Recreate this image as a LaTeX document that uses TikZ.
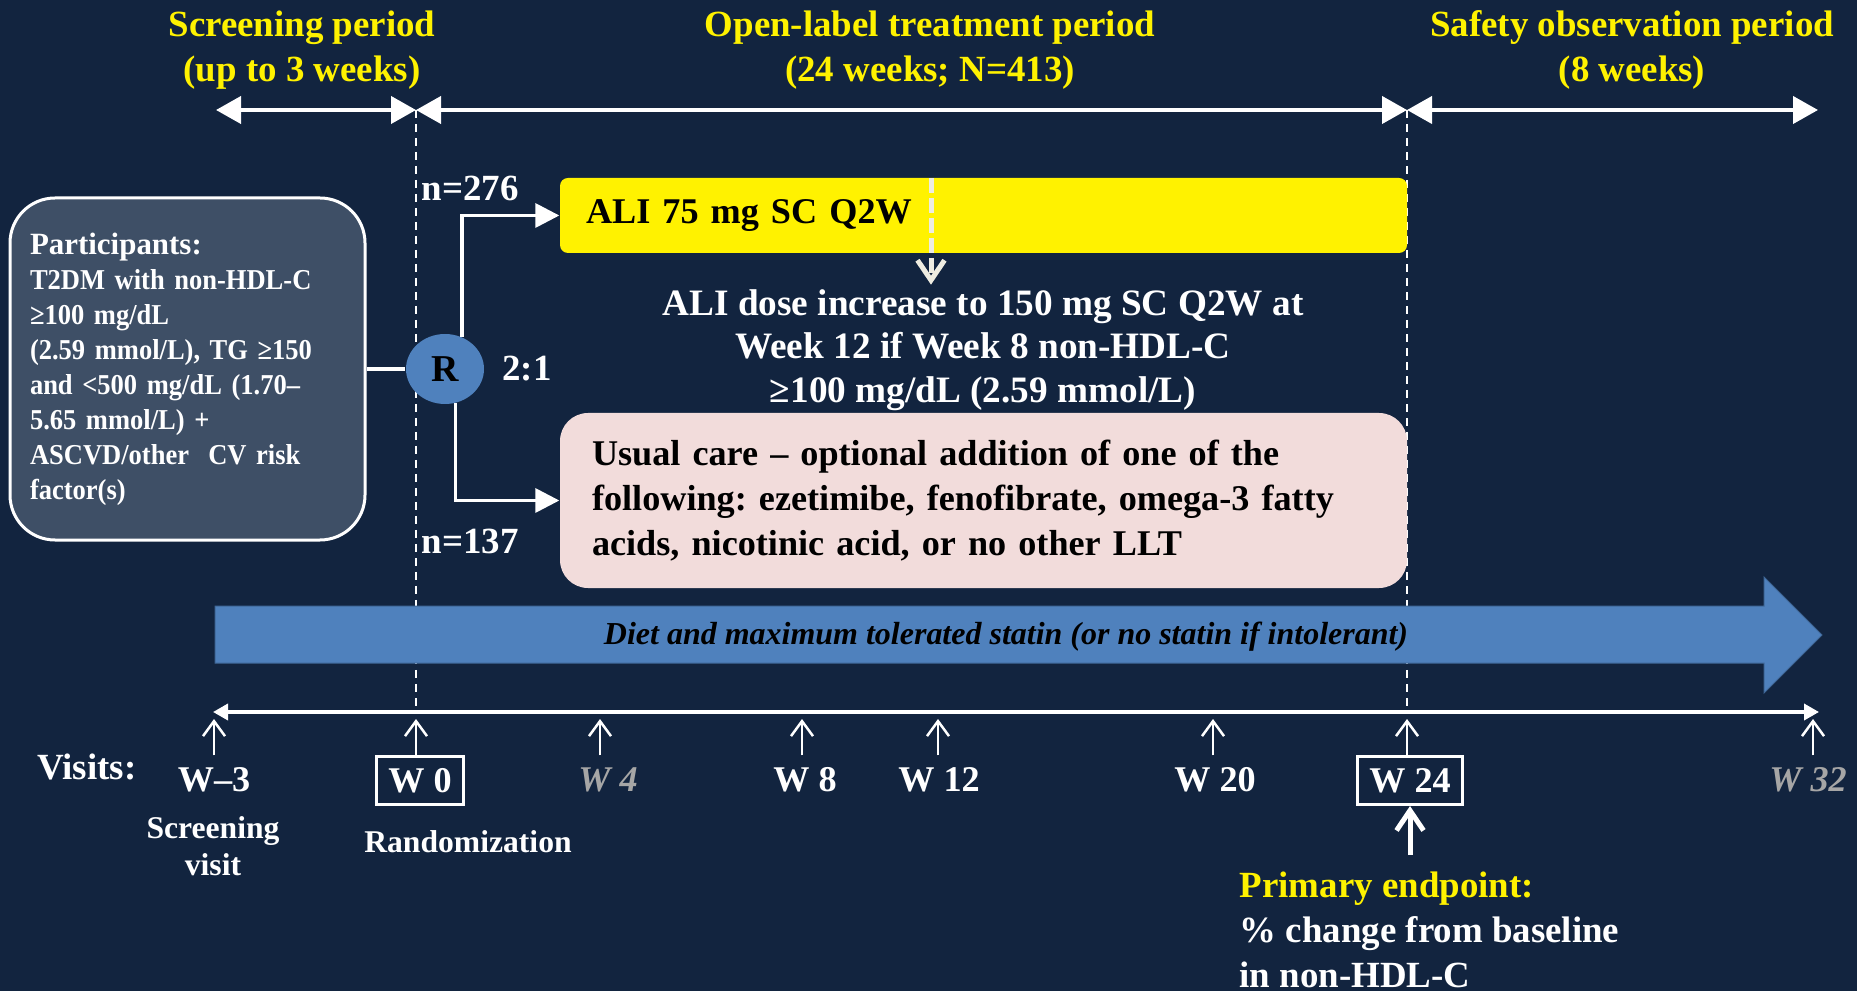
\documentclass[tikz,border=0pt]{standalone}
\usepackage{fontspec}
\setmainfont{Liberation Serif}
\newfontfamily\partfont[FakeStretch=0.92]{Liberation Serif}
\usepackage{tikz}
\usetikzlibrary{shapes.geometric, arrows.meta, positioning, calc}

\definecolor{navybg}{HTML}{12243F}
\definecolor{slatebox}{HTML}{3E4F66}
\definecolor{rblue}{HTML}{4F81BD}
\definecolor{carepink}{HTML}{F2DCDB}
\definecolor{creamline}{HTML}{EEECE1}
\definecolor{greyweek}{HTML}{A6A6A6}

\begin{document}
\frenchspacing
\begin{tikzpicture}[
    hdr/.style={text=yellow, align=center, font=\bfseries\fontsize{10.5}{12.8}\selectfont},
    period/.style={white, line width=0.04cm,
                   {Triangle[length=0.25cm,width=0.27cm]}-{Triangle[length=0.25cm,width=0.27cm]}},
    divider/.style={white, line width=0.02cm, dash pattern=on 0.08cm off 0.06cm},
    partbox/.style={draw=white, line width=0.03cm, fill=slatebox, rounded corners=0.45cm,
                    text width=3.15cm, inner xsep=0.2cm, minimum height=3.42cm, align=left,
                    text=white, font=\partfont\bfseries\fontsize{8.2}{9.95}\selectfont},
    rand/.style={ellipse, fill=rblue, minimum width=0.78cm, minimum height=0.70cm,
                 inner sep=0pt, font=\bfseries\fontsize{10.8}{13}\selectfont},
    lbl/.style={text=white, inner sep=0pt, font=\bfseries\fontsize{10.5}{12.6}\selectfont},
    branch/.style={white, line width=0.035cm, -{Triangle[length=0.24cm,width=0.24cm]}},
    alibox/.style={fill=yellow, rounded corners=0.08cm, text width=7.95cm, inner xsep=0.26cm,
                   minimum height=0.75cm, align=left, font=\bfseries\fontsize{10.3}{13}\selectfont},
    carebox/.style={fill=carepink, rounded corners=0.28cm, text width=7.83cm, inner xsep=0.32cm,
                    minimum height=1.75cm, align=left, font=\bfseries\fontsize{10.3}{12.7}\selectfont},
    escal/.style={creamline, line width=0.05cm, dash pattern=on 0.15cm off 0.05cm,
                  -{Straight Barb[length=0.2cm,width=0.27cm]}},
    timeline/.style={white, line width=0.035cm,
                     {Triangle[length=0.15cm,width=0.16cm]}-{Triangle[length=0.15cm,width=0.16cm]}},
    visarr/.style={white, line width=0.025cm, shorten >=0.07cm,
                   -{Straight Barb[length=0.15cm,width=0.22cm]}},
    visit/.style={text=white, inner sep=0pt, minimum height=0.48cm,
                  font=\bfseries\fontsize{10.3}{12}\selectfont},
    visbox/.style={visit, draw=white, line width=0.03cm, inner xsep=0.12cm},
    later/.style={visit, text=greyweek, font=\bfseries\itshape\fontsize{10.3}{12}\selectfont},
    note/.style={text=white, align=center, font=\bfseries\fontsize{9}{10.5}\selectfont},
    primarr/.style={white, line width=0.05cm, -{Straight Barb[length=0.2cm,width=0.27cm]}}
]
\fill[navybg] (0,0) rectangle (18.57,-9.91);
\useasboundingbox (0,0) rectangle (18.57,-9.91);

\coordinate (p0) at (2.16,-1.10);
\coordinate (p1) at (4.16,-1.10);
\coordinate (p2) at (14.07,-1.10);
\coordinate (p3) at (18.18,-1.10);
\coordinate (m0) at (4.16,-7.12);
\coordinate (m24) at (14.07,-7.12);
\coordinate (tl0) at (2.13,-7.12);
\coordinate (tl1) at (18.19,-7.12);

\draw[divider] (p1) -- (m0);
\draw[divider] (p2) -- (m24);

\node[hdr] (scr) at (3.02,-0.50) {Screening period\\(up to 3 weeks)};
\node[hdr] (olt) at (9.30,-0.50) {Open-label treatment period\\(24 weeks; N=413)};
\node[hdr] (saf) at (16.32,-0.50) {Safety observation period\\(8 weeks)};
\draw[period] (p0) -- (p1);
\draw[period] (p1) -- (p2);
\draw[period] (p2) -- (p3);

\node[partbox] (part) at (1.875,-3.69) {{\rmfamily\fontsize{8.8}{9.95}\selectfont Participants:}\\T2DM with non-HDL-C\\≥100 mg/dL\\(2.59 mmol/L), TG ≥150\\and <500 mg/dL (1.70–\\5.65 mmol/L) +\\ASCVD/other~ CV risk\\factor(s)};
\node[rand] (R) at (4.45,-3.69) {R};
\node[lbl] (ratio) at (5.27,-3.69) {2:1};
\node[lbl, anchor=west] (n1) at (4.21,-1.88) {n=276};
\node[lbl, anchor=west] (n2) at (4.21,-5.41) {n=137};

\node[alibox] (ali) at (9.835,-2.155) {ALI 75 mg SC Q2W};
\node[carebox] (care) at (9.835,-5.005) {Usual care -- optional addition of one of the\\following: ezetimibe, fenofibrate, omega-3 fatty\\acids, nicotinic acid, or no other LLT};
\node[lbl, align=center, inner sep=0.04cm, font=\bfseries\fontsize{10.6}{12.4}\selectfont] (dose) at (9.83,-3.50) {ALI dose increase to 150 mg SC Q2W at\\Week 12 if Week 8 non-HDL-C\\≥100 mg/dL (2.59 mmol/L)};

\coordinate (esc) at (9.31,-1.78);
\draw[escal] (esc) -- (esc |- dose.north);

\draw[white, line width=0.035cm] (part.east) -- (R.west);
\draw[branch] (R.62) |- (ali.west);
\draw[branch] (R.-73) |- (care.west);

\filldraw[fill=rblue, draw=rblue!80!black, line width=0.01cm] (2.15,-6.06) -- (17.64,-6.06) -- (17.64,-5.77) -- (18.22,-6.35) -- (17.64,-6.93) -- (17.64,-6.63) -- (2.15,-6.63) -- cycle;
\node[font=\bfseries\itshape\fontsize{9.1}{11}\selectfont] (diet) at (10.06,-6.37) {Diet and maximum tolerated statin (or no statin if intolerant)};

\draw[timeline] (tl0) -- (tl1);

\node[lbl] (visits) at (0.87,-7.67) {Visits:};
\node[visit] (wm3) at (2.14,-7.80) {W--3};
\node[visbox] (w0) at (4.20,-7.805) {W 0};
\node[later] (w4) at (6.08,-7.80) {W 4};
\node[visit] (w8) at (8.05,-7.80) {W 8};
\node[visit] (w12) at (9.39,-7.80) {W 12};
\node[visit] (w20) at (12.15,-7.80) {W 20};
\node[visbox] (w24) at (14.10,-7.805) {W 24};
\node[later] (w32) at (18.08,-7.80) {W 32};

\foreach \n/\x in {m3/2.14, 0/4.16, 4/6.00, 8/8.02, 12/9.38, 20/12.13, 24/14.07, 32/18.13}
  \coordinate (t\n) at (\x,-7.12);
\foreach \n in {m3, 0, 4, 8, 12, 20, 24, 32}
  \draw[visarr] (w\n.north -| t\n) -- (t\n);

\node[note] (scrv) at (2.13,-8.46) {Screening\\visit};
\node[note] (randz) at (4.68,-8.42) {Randomization};

\coordinate (pebase) at (14.10,-8.55);
\draw[primarr] (pebase) -- (w24.south);
\node[lbl, align=left, anchor=west, font=\bfseries\fontsize{10.5}{12.8}\selectfont] (prim) at (12.39,-9.30) {\textcolor{yellow}{Primary endpoint:}\\\% change from baseline\\in non-HDL-C};
\end{tikzpicture}
\end{document}
